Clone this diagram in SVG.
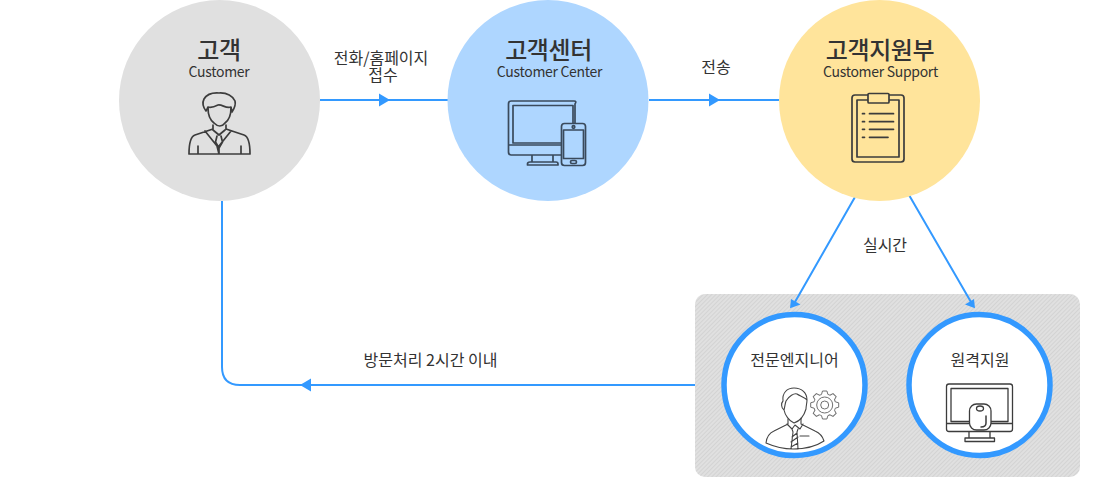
<svg xmlns="http://www.w3.org/2000/svg" width="1100" height="477" viewBox="0 0 1100 477">
<style>
text{font-family:"Noto Sans CJK KR","Noto Sans",sans-serif;fill:#333;text-anchor:middle}
.t{font-size:24px;font-weight:500;letter-spacing:-.4px}
.s{font-size:14px;font-weight:400;letter-spacing:-.3px}
.l{font-size:16px}
.n{font-size:16px}
.c{fill:none;stroke:#3399ff;stroke-width:2}
.ah{fill:#3399ff}
.i{fill:none;stroke:#3c3c3c;stroke-width:1.7;stroke-linecap:round;stroke-linejoin:round}
.i2{fill:none;stroke:#444;stroke-width:1.1;stroke-linecap:round;stroke-linejoin:round}
.g{fill:none;stroke:#707070;stroke-width:1}
.b{fill:none;stroke:#3a4a5c;stroke-width:1.7;stroke-linejoin:round}
.o{fill:#fff;stroke:#3399ff;stroke-width:5.5}
</style>
<defs>
<pattern id="h" width="3" height="3" patternUnits="userSpaceOnUse" patternTransform="rotate(45)">
<rect width="3" height="3" fill="#e0e0e0"/><rect width="1" height="3" fill="#d3d3d3"/>
</pattern>
<path id="tooth" d="M10.600 -3.200L14 -2.200V2.200L10.600 3.200A11 11 0 0 1 9.760 5.230"/>
</defs>
<g id="panel"><rect x="695" y="294" width="385" height="183" rx="10" fill="url(#h)"/></g>
<g id="connectors">
<path class="c" d="M320 100H448M649 100H779M855 197L795 302M909 195L971 302M695 385H240Q222 385 222 367V201"/>
<path class="ah" d="M379 93.500L390 100L379 106.500ZM709 93.500L720 100L709 106.500ZM300 385L311 378.500V391.500ZM790 308.300L791 299L800.500 304.500ZM975 308.300L965 304.500L974 299Z"/>
</g>
<g id="customer">
<circle cx="219.500" cy="100.500" r="100.500" fill="#e0e0e0"/>
<text class="t" x="219" y="59">고객<tspan class="s" x="219" y="77">Customer</tspan></text>
<path class="i" d="M206 111C203 107 202 103 204 99C207 94 212 92.500 219 93C227 92.500 233 96 235 101C236 105 234 109 232 112C232 110 231 108 231 107C226 109 222 104 218 105C214 107 211 108 208 107C207 109 207 110 206 111Z"/>
<path class="i" d="M208 108C208 114 210 120 214 123C218 127 222 127 225 123C229 120 231 114 231 108"/>
<path class="i" d="M213 125V129L195 135Q189 137 189 154H250Q250 137 244 135L226 129V125M205 131L217 146L219 154V146L231 131M213 130L219 135L225 130M217 136L215.500 142L219 148L222.500 142L221 136M198 146V154M241 146V154"/>
</g>
<g id="center">
<circle cx="548" cy="100.500" r="100.500" fill="#aed6ff"/>
<text class="t" x="548.500" y="59">고객센터<tspan class="s" x="549.500" y="77">Customer Center</tspan></text>
<path class="b" d="M575 123V104Q577 101 574 101H511Q508.500 101 508.500 104V152Q508.500 155 511 155H561M513 105.500H573V143H513ZM508.500 145H561M532 155V162M553 155V162M530 162H556Q558 162 558 164V165H527.500V164Q527.500 162 530 162Z"/>
<rect class="b" x="561.500" y="123.500" width="24" height="42" rx="3" style="fill:#aed6ff"/>
<path class="b" d="M563.500 130H583.500V158.500H563.500Z"/>
<circle class="b" cx="573.500" cy="127" r="1.300"/><rect class="b" x="570.500" y="160.500" width="6" height="3" rx="1.500"/>
</g>
<g id="support">
<circle cx="879.500" cy="100.500" r="100.500" fill="#ffe49b"/>
<text class="t" x="880" y="59">고객지원부<tspan class="s" x="880.500" y="77">Customer Support</tspan></text>
<rect class="i" x="852" y="95" width="52" height="67" rx="3"/>
<rect class="i" x="857" y="100" width="42" height="57"/>
<rect class="i" x="868" y="93.500" width="21" height="9.500" rx="1" style="fill:#ffe49b"/>
<path class="i" d="M862.500 113.700H864.500M869.500 113.700H893.500M862.500 121.700H864.500M869.500 121.700H893.500M862.500 129.300H864.500M869.500 129.300H893.500M862.500 137.300H864.500M869.500 137.300H888"/>
</g>
<g id="engineer">
<circle class="o" cx="794.500" cy="385" r="70.500"/>
<text class="n" x="794.500" y="366">전문엔지니어</text>
<path class="i2" d="M784 410C781 408 781 403 783 401C782 393 787 388 794 388C802 388 807 393 807 400C804 397 800 396 797 394C794 393 789 396 786 401C785 404 785 406 784 410C785 415 789 421 794 423C800 421 804 416 806 409C806 406 807 403 807 400"/>
<path class="i2" d="M788 419V424L774 431Q767 434 766 443C775 447 785 449 793 449C803 449 815 447 824 441Q822 434 815 431L801 424V418M787 424L792 429L795 425L800 429L803 424M792 429L793 432L791 449H798L797 432L798 429M792 437L797 433M791 442L798 437M791 447L798 443M800 436H809"/>
<g class="g" transform="translate(824.700 405)">
<use href="#tooth"/><use href="#tooth" transform="rotate(45)"/><use href="#tooth" transform="rotate(90)"/><use href="#tooth" transform="rotate(135)"/><use href="#tooth" transform="rotate(180)"/><use href="#tooth" transform="rotate(225)"/><use href="#tooth" transform="rotate(270)"/><use href="#tooth" transform="rotate(315)"/>
<circle r="8"/><circle r="4"/>
</g>
</g>
<g id="remote">
<circle class="o" cx="979.500" cy="385" r="70.500"/>
<text class="n" x="980" y="366">원격지원</text>
<path class="i" d="M1012.500 429V386.500Q1012.500 384 1010 384H949Q946.500 384 946.500 386.500V429Q946.500 431.500 949 431.500H1010Q1012.500 431.500 1012.500 429ZM951 388.500H1008V421.500H951ZM946.500 423.500H969M991 423.500H1012.500M969 431.500V438M990 431.500V438M965 438H994.500V441.500H965Z" style="stroke-width:1.300"/>
<rect class="i" x="969.500" y="404" width="21.500" height="26" rx="7" style="stroke-width:1.300;fill:#fff"/>
<ellipse class="i" cx="980" cy="408.500" rx="3.500" ry="2.500" style="stroke-width:1.300"/>
<path class="i" d="M986 416V423Q986 427 981 427" style="stroke-width:1.500"/>
</g>
<g id="labels">
<text class="l" x="381" y="64">전화/홈페이지<tspan x="383" y="81">접수</tspan></text>
<text class="l" x="716" y="73">전송</text>
<text class="l" x="885" y="251">실시간</text>
<text class="l" x="430.500" y="366">방문처리 2시간 이내</text>
</g>
</svg>
